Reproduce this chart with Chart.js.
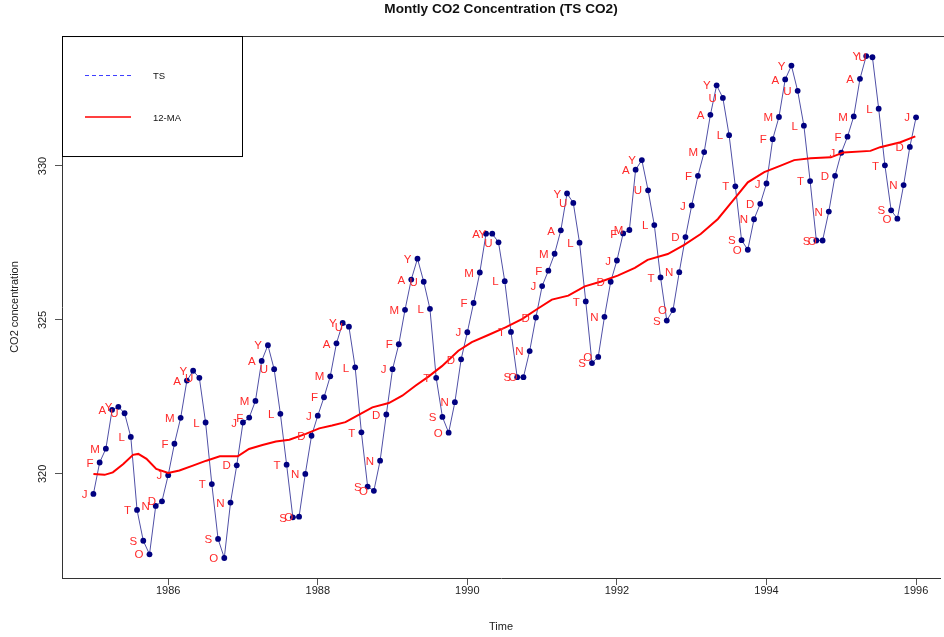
<!DOCTYPE html>
<html>
<head>
<meta charset="utf-8">
<title>Montly CO2 Concentration (TS CO2)</title>
<script src="https://cdn.jsdelivr.net/npm/chart.js@4.4.1/dist/chart.umd.min.js"></script>
<style>
  html, body { margin: 0; padding: 0; background: #fff; overflow: hidden; }
  #wrap { width: 944px; height: 637px; }
</style>
</head>
<body>
<div id="wrap"><canvas id="co2-chart"></canvas></div>
<script>
const START_YEAR = 1985;
const MONTH_CODES = ["J", "F", "M", "A", "Y", "U", "L", "T", "S", "O", "N", "D"];

// monthly readings, Jan 1985 .. Jan 1996 (one row per year)
const co2 = [
  319.35, 320.37, 320.82, 322.08, 322.18, 321.97, 321.20, 318.83, 317.83, 317.39, 318.96, 319.11,
  319.96, 320.98, 321.82, 323.03, 323.35, 323.12, 321.67, 319.67, 317.89, 317.27, 319.07, 320.28,
  321.67, 321.83, 322.37, 323.67, 324.18, 323.40, 321.95, 320.30, 318.59, 318.61, 320.00, 321.24,
  321.89, 322.49, 323.17, 324.24, 324.90, 324.78, 323.46, 321.35, 319.59, 319.45, 320.43, 321.93,
  323.40, 324.21, 325.33, 326.31, 326.99, 326.24, 325.36, 323.12, 321.85, 321.34, 322.33, 323.72,
  324.60, 325.55, 326.54, 327.80, 327.80, 327.52, 326.26, 324.61, 323.14, 323.14, 323.99, 325.08,
  326.10, 326.60, 327.15, 327.91, 329.11, 328.80, 327.51, 325.60, 323.60, 323.80, 325.10, 326.24,
  326.93, 327.81, 327.92, 329.88, 330.19, 329.21, 328.08, 326.38, 324.98, 325.32, 326.55, 327.69,
  328.72, 329.68, 330.45, 331.66, 332.62, 332.21, 331.00, 329.34, 327.59, 327.28, 328.27, 328.77,
  329.43, 330.87, 331.59, 332.81, 333.26, 332.44, 331.31, 329.51, 327.58, 327.58, 328.52, 329.68,
  330.43, 330.95, 331.61, 332.83, 333.57, 333.53, 331.86, 330.02, 328.56, 328.29, 329.38, 330.62,
  331.58,
];

// 12-month moving average
const maTime = [
  1985.00, 1985.15, 1985.26, 1985.40, 1985.53, 1985.60, 1985.71, 1985.84, 1986.00, 1986.15,
  1986.33, 1986.51, 1986.69, 1986.93, 1987.08, 1987.26, 1987.44, 1987.62, 1987.84, 1988.02,
  1988.19, 1988.37, 1988.51, 1988.73, 1988.95, 1989.13, 1989.31, 1989.48, 1989.66, 1989.88,
  1990.06, 1990.28, 1990.51, 1990.73, 1990.95, 1991.13, 1991.35, 1991.57, 1991.79, 1992.01,
  1992.24, 1992.41, 1992.68, 1992.90, 1993.12, 1993.35, 1993.57, 1993.75, 1993.97, 1994.19,
  1994.37, 1994.59, 1994.86, 1995.03, 1995.39, 1995.52, 1995.79, 1995.99,
];
const maValue = [
  320.00, 319.97, 320.05, 320.32, 320.62, 320.65, 320.49, 320.16, 320.03, 320.11,
  320.27, 320.43, 320.57, 320.57, 320.81, 320.94, 321.05, 321.11, 321.30, 321.48,
  321.57, 321.68, 321.87, 322.16, 322.30, 322.54, 322.87, 323.16, 323.50, 324.00,
  324.28, 324.51, 324.76, 325.03, 325.38, 325.66, 325.79, 326.09, 326.25, 326.44,
  326.69, 326.95, 327.14, 327.44, 327.79, 328.28, 328.93, 329.47, 329.80, 330.01,
  330.19, 330.25, 330.28, 330.44, 330.49, 330.61, 330.77, 330.96,
];

const X_TICKS = [1986, 1988, 1990, 1992, 1994, 1996];
const Y_TICKS = [320, 325, 330];

const FONT = "'Liberation Sans', Arial, sans-serif";
const TS_LINE = "#5050a6";
const TS_POINT = "#000080";
const MA_LINE = "#ff0000";
const LABEL_RED = "#ff2a2a";

const tsPoints = co2.map((v, i) => ({ x: START_YEAR + i / 12, y: v }));
const maPoints = maTime.map((t, i) => ({ x: t, y: maValue[i] }));

// month letter to the left of every point
const monthLabels = {
  id: "monthLabels",
  afterDatasetsDraw(chart) {
    const ctx = chart.ctx;
    const meta = chart.getDatasetMeta(0);
    ctx.save();
    ctx.font = `11.5px ${FONT}`;
    ctx.fillStyle = LABEL_RED;
    ctx.textAlign = "right";
    ctx.textBaseline = "middle";
    meta.data.forEach((pt, i) => {
      ctx.fillText(MONTH_CODES[i % 12], pt.x - 6, pt.y + 1);
    });
    ctx.restore();
  },
};

// upright y labels, top frame line and the legend box
const frameAndLegend = {
  id: "frameAndLegend",
  afterDraw(chart) {
    const { ctx, chartArea, scales } = chart;
    const left = chartArea.left;
    const top = chartArea.top;
    ctx.save();

    ctx.font = `11px ${FONT}`;
    ctx.fillStyle = "#222";
    ctx.textAlign = "center";
    ctx.textBaseline = "middle";
    Y_TICKS.forEach((v) => {
      ctx.save();
      ctx.translate(scales.y.right - 19, scales.y.getPixelForValue(v));
      ctx.rotate(-Math.PI / 2);
      ctx.fillText(String(v), 0, 0);
      ctx.restore();
    });

    ctx.strokeStyle = "#333";
    ctx.lineWidth = 1;
    ctx.beginPath();
    ctx.moveTo(left, top + 0.5);
    ctx.lineTo(chart.width, top + 0.5);
    ctx.stroke();

    ctx.strokeStyle = "#000";
    ctx.strokeRect(left + 0.5, top + 0.5, 180, 120);

    ctx.setLineDash([4, 3]);
    ctx.strokeStyle = "#3c3cff";
    ctx.beginPath();
    ctx.moveTo(left + 23, top + 39.5);
    ctx.lineTo(left + 69, top + 39.5);
    ctx.stroke();

    ctx.setLineDash([]);
    ctx.strokeStyle = MA_LINE;
    ctx.lineWidth = 1.5;
    ctx.beginPath();
    ctx.moveTo(left + 23, top + 81);
    ctx.lineTo(left + 69, top + 81);
    ctx.stroke();

    ctx.font = `9.5px ${FONT}`;
    ctx.fillStyle = "#111";
    ctx.textAlign = "left";
    ctx.fillText("TS", left + 91, top + 40);
    ctx.fillText("12-MA", left + 91, top + 82);
    ctx.restore();
  },
};

new Chart(document.getElementById("co2-chart"), {
  type: "line",
  data: {
    datasets: [
      {
        label: "TS",
        data: tsPoints,
        borderColor: TS_LINE,
        borderWidth: 1,
        pointRadius: 2.9,
        pointBackgroundColor: TS_POINT,
        pointBorderWidth: 0,
        tension: 0,
        order: 2,
      },
      {
        label: "12-MA",
        data: maPoints,
        borderColor: MA_LINE,
        borderWidth: 2,
        pointRadius: 0,
        tension: 0,
        order: 1,
      },
    ],
  },
  options: {
    responsive: true,
    maintainAspectRatio: false,
    animation: false,
    events: [],
    layout: { padding: { left: 0, right: 1, top: 0, bottom: 0 } },
    plugins: {
      legend: { display: false },
      tooltip: { enabled: false },
      title: {
        display: true,
        text: "Montly CO2 Concentration (TS CO2)",
        fullSize: false,
        color: "#111",
        font: { family: FONT, size: 13.6, weight: "bold" },
        padding: { top: 1.5, bottom: 18.2 },
      },
    },
    scales: {
      x: {
        type: "linear",
        min: 1984.58,
        max: 1996.32,
        afterBuildTicks: (scale) => {
          scale.ticks = X_TICKS.map((v) => ({ value: v }));
        },
        afterFit: (scale) => {
          scale.height = 59;
        },
        ticks: {
          autoSkip: false,
          maxRotation: 0,
          padding: -1,
          color: "#222",
          font: { family: FONT, size: 11 },
          callback: (v) => String(v),
        },
        grid: { drawOnChartArea: false, drawTicks: true, tickLength: 7, color: "#555" },
        border: { display: true, color: "#333", width: 1 },
        title: {
          display: true,
          text: "Time",
          color: "#222",
          font: { family: FONT, size: 11 },
          padding: { top: 0, bottom: 3.4 },
        },
      },
      y: {
        type: "linear",
        min: 316.62,
        max: 334.22,
        afterBuildTicks: (scale) => {
          scale.ticks = Y_TICKS.map((v) => ({ value: v }));
        },
        afterFit: (scale) => {
          scale.width = 62;
        },
        ticks: { display: false },
        grid: { drawOnChartArea: false, drawTicks: true, tickLength: 7, color: "#555" },
        border: { display: true, color: "#333", width: 1 },
        title: {
          display: true,
          text: "CO2 concentration",
          color: "#222",
          font: { family: FONT, size: 11 },
          padding: { top: 8.4, bottom: 0 },
        },
      },
    },
  },
  plugins: [monthLabels, frameAndLegend],
});
</script>
</body>
</html>
